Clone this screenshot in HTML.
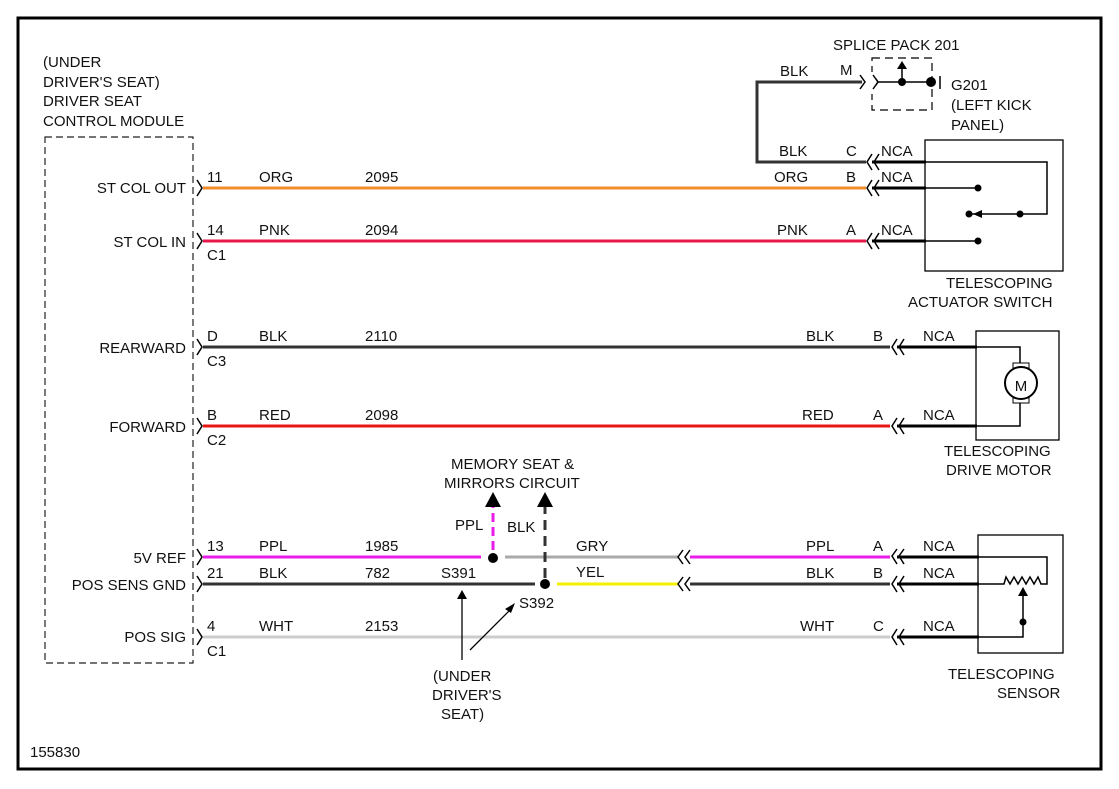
<!DOCTYPE html>
<html><head><style>body{margin:0;background:#fff}svg{display:block}text{font-family:"Liberation Sans",sans-serif;font-size:15px;fill:#111}</style></head><body>
<svg width="1119" height="789" viewBox="0 0 1119 789">
<rect x="18" y="18" width="1083" height="751" fill="none" stroke="#000" stroke-width="3"/>
<rect x="45" y="137" width="148" height="526" fill="none" stroke="#222" stroke-width="1.2" stroke-dasharray="7,4"/>
<text x="43" y="67">(UNDER</text><text x="43" y="87">DRIVER'S SEAT)</text><text x="43" y="106">DRIVER SEAT</text><text x="43" y="126">CONTROL MODULE</text>
<g text-anchor="end"><text x="186" y="193">ST COL OUT</text><text x="186" y="247">ST COL IN</text><text x="186" y="353">REARWARD</text><text x="186" y="432">FORWARD</text><text x="186" y="563">5V REF</text><text x="186" y="590">POS SENS GND</text><text x="186" y="642">POS SIG</text></g>
<g fill="none" stroke="#000" stroke-width="1.5">
<path d="M197 180 l5 8 l-5 8"/><path d="M197 233 l5 8 l-5 8"/><path d="M197 339 l5 8 l-5 8"/><path d="M197 418 l5 8 l-5 8"/><path d="M197 549 l5 8 l-5 8"/><path d="M197 576 l5 8 l-5 8"/><path d="M197 629 l5 8 l-5 8"/>
</g>
<g font-size="15"><text x="207" y="182">11</text><text x="207" y="235">14</text><text x="207" y="260">C1</text><text x="207" y="341">D</text><text x="207" y="366">C3</text><text x="207" y="420">B</text><text x="207" y="445">C2</text><text x="207" y="551">13</text><text x="207" y="578">21</text><text x="207" y="631">4</text><text x="207" y="656">C1</text></g>
<g stroke-width="3" fill="none">
<line x1="203" y1="188" x2="866" y2="188" stroke="#f28c28"/>
<line x1="203" y1="241" x2="866" y2="241" stroke="#e8174a"/>
<line x1="203" y1="347" x2="890" y2="347" stroke="#333"/>
<line x1="203" y1="426" x2="890" y2="426" stroke="#e81515"/>
<line x1="203" y1="557" x2="481" y2="557" stroke="#e81ee8"/>
<line x1="505" y1="557" x2="678" y2="557" stroke="#aaa"/>
<line x1="690" y1="557" x2="890" y2="557" stroke="#e81ee8"/>
<line x1="203" y1="584" x2="535" y2="584" stroke="#333"/>
<line x1="557" y1="584" x2="678" y2="584" stroke="#f5f000"/>
<line x1="690" y1="584" x2="890" y2="584" stroke="#333"/>
<line x1="203" y1="637" x2="890" y2="637" stroke="#ccc"/>
<path d="M866 162 H757 V82 H862" stroke="#333"/>
<line x1="493" y1="550" x2="493" y2="505" stroke="#e81ee8" stroke-dasharray="9,5"/>
<line x1="545" y1="578" x2="545" y2="505" stroke="#333" stroke-dasharray="10,6"/>
</g>
<path d="M485 507 l8 -15 l8 15z M537 507 l8 -15 l8 15z"/>
<circle cx="493" cy="558" r="5"/><circle cx="545" cy="584" r="5"/>
<g fill="none" stroke="#000" stroke-width="1.5">
<path d="M683 550 l-5 7 l5 7 M690 550 l-5 7 l5 7"/><path d="M683 577 l-5 7 l5 7 M690 577 l-5 7 l5 7"/>
</g>
<text x="451" y="469">MEMORY SEAT &amp;</text><text x="444" y="488">MIRRORS CIRCUIT</text>
<text x="455" y="530">PPL</text><text x="507" y="532">BLK</text>
<text x="576" y="551">GRY</text><text x="576" y="577">YEL</text>
<text x="441" y="578">S391</text><text x="519" y="608">S392</text>
<line x1="462" y1="660" x2="462" y2="596" stroke="#000" stroke-width="1.3"/><path d="M457 599 l5 -9 l5 9z"/>
<line x1="470" y1="650" x2="510" y2="610" stroke="#000" stroke-width="1.3"/><path d="M505 609 l10 -6 l-4 10z"/>
<text x="433" y="681">(UNDER</text><text x="432" y="700">DRIVER'S</text><text x="441" y="719">SEAT)</text>
<text x="259" y="182">ORG</text><text x="365" y="182">2095</text>
<text x="259" y="235">PNK</text><text x="365" y="235">2094</text>
<text x="259" y="341">BLK</text><text x="365" y="341">2110</text>
<text x="259" y="420">RED</text><text x="365" y="420">2098</text>
<text x="259" y="551">PPL</text><text x="365" y="551">1985</text>
<text x="259" y="578">BLK</text><text x="365" y="578">782</text>
<text x="259" y="631">WHT</text><text x="365" y="631">2153</text>
<text x="780" y="76">BLK</text><text x="840" y="75">M</text>
<text x="779" y="156">BLK</text><text x="846" y="156">C</text>
<text x="774" y="182">ORG</text><text x="846" y="182">B</text>
<text x="777" y="235">PNK</text><text x="846" y="235">A</text>
<text x="806" y="341">BLK</text><text x="873" y="341">B</text>
<text x="802" y="420">RED</text><text x="873" y="420">A</text>
<text x="806" y="551">PPL</text><text x="873" y="551">A</text>
<text x="806" y="578">BLK</text><text x="873" y="578">B</text>
<text x="800" y="631">WHT</text><text x="873" y="631">C</text>
<g fill="none" stroke="#000" stroke-width="1.5">
<path d="M872 154 l-5 8 l5 8 M879 154 l-5 8 l5 8"/><path d="M872 180 l-5 8 l5 8 M879 180 l-5 8 l5 8"/><path d="M872 233 l-5 8 l5 8 M879 233 l-5 8 l5 8"/>
<path d="M897 339 l-5 8 l5 8 M904 339 l-5 8 l5 8"/><path d="M897 418 l-5 8 l5 8 M904 418 l-5 8 l5 8"/>
<path d="M897 549 l-5 7 l5 8 M904 549 l-5 7 l5 8"/><path d="M897 576 l-5 8 l5 8 M904 576 l-5 8 l5 8"/><path d="M897 629 l-5 8 l5 8 M904 629 l-5 8 l5 8"/>
<path d="M860 75 l5 7 l-5 7 M873 75 l5 7 l-5 7"/>
</g>
<g stroke="#000" stroke-width="3">
<line x1="872" y1="162" x2="926" y2="162"/><line x1="872" y1="188" x2="926" y2="188"/><line x1="872" y1="241" x2="926" y2="241"/>
<line x1="897" y1="347" x2="977" y2="347"/><line x1="897" y1="426" x2="977" y2="426"/>
<line x1="897" y1="557" x2="979" y2="557"/><line x1="897" y1="584" x2="979" y2="584"/><line x1="897" y1="637" x2="979" y2="637"/>
</g>
<g text-anchor="start"><text x="881" y="156">NCA</text><text x="881" y="182">NCA</text><text x="881" y="235">NCA</text><text x="923" y="341">NCA</text><text x="923" y="420">NCA</text><text x="923" y="551">NCA</text><text x="923" y="578">NCA</text><text x="923" y="631">NCA</text></g>
<text x="833" y="50">SPLICE PACK 201</text>
<path d="M872 58 H932 V110 H872 Z" fill="none" stroke="#000" stroke-width="1.2" stroke-dasharray="8,5"/>
<rect x="868" y="72" width="8" height="22" fill="#fff"/>
<path d="M873 75 l5 7 l-5 7" fill="none" stroke="#000" stroke-width="1.5"/>
<path d="M878 82 H932" stroke="#000" stroke-width="1.5"/><path d="M902 82 V68" stroke="#000" stroke-width="1.5"/><path d="M897 69 l5 -8 l5 8z"/>
<circle cx="902" cy="82" r="4"/><circle cx="931" cy="82" r="5"/><line x1="940" y1="76" x2="940" y2="89" stroke="#000" stroke-width="1.5"/>
<text x="951" y="90">G201</text><text x="951" y="110">(LEFT KICK</text><text x="951" y="130">PANEL)</text>
<rect x="925" y="140" width="138" height="131" fill="none" stroke="#000" stroke-width="1.3"/>
<path d="M926 162 H1047 V214 H1020 M926 188 H977 M926 241 H977 M969 214 H1020" fill="none" stroke="#000" stroke-width="1.5"/>
<circle cx="978" cy="188" r="3.5"/><circle cx="978" cy="241" r="3.5"/><circle cx="969" cy="214" r="3.5"/><circle cx="1020" cy="214" r="3.5"/><path d="M973 214 l9 -4 v8z"/>
<text x="946" y="288">TELESCOPING</text><text x="908" y="307">ACTUATOR SWITCH</text>
<rect x="976" y="331" width="83" height="109" fill="none" stroke="#000" stroke-width="1.3"/>
<path d="M977 347 H1020 V363 M977 426 H1020 V400" fill="none" stroke="#000" stroke-width="1.5"/>
<rect x="1013" y="363" width="16" height="5" fill="#fff" stroke="#000"/><rect x="1013" y="398" width="16" height="5" fill="#fff" stroke="#000"/>
<circle cx="1021" cy="383" r="16" fill="#fff" stroke="#000" stroke-width="2"/>
<text x="1021" y="391" text-anchor="middle" font-size="20">M</text>
<text x="944" y="456">TELESCOPING</text><text x="946" y="475">DRIVE MOTOR</text>
<rect x="978" y="535" width="85" height="118" fill="none" stroke="#000" stroke-width="1.3"/>
<path d="M979 557 H1047 V584 H1041 l-3 -7 l-4 7 l-4 -7 l-4 7 l-4 -7 l-4 7 l-4 -7 l-4 7 l-4 -7 l-2 7 H979 M1023 594 V637 H979" fill="none" stroke="#000" stroke-width="1.5"/>
<path d="M1018 596 l5 -9 l5 9z"/><circle cx="1023" cy="622" r="3.5"/>
<text x="948" y="679">TELESCOPING</text><text x="997" y="698">SENSOR</text>
<text x="30" y="757" font-size="14">155830</text>
</svg>
</body></html>
